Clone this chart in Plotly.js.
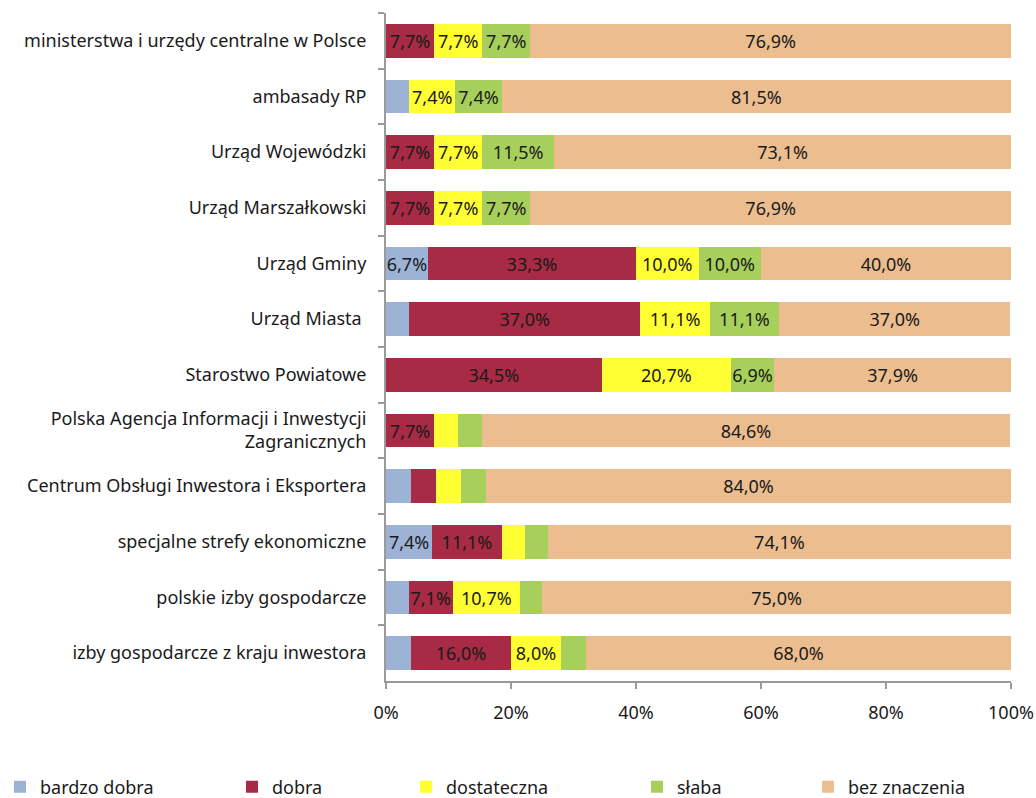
<!DOCTYPE html>
<html>
<head>
<meta charset="utf-8">
<script src="https://cdn.plot.ly/plotly-3.0.1.min.js"></script>
<style>html,body{margin:0;padding:0;background:#fff}#chart{width:1036px;height:798px}</style>
</head>
<body>
<div id="chart"></div>
<script>
const categories = [
  "ministerstwa i urzędy centralne w Polsce",
  "ambasady RP",
  "Urząd Wojewódzki",
  "Urząd Marszałkowski",
  "Urząd Gminy",
  "Urząd Miasta ",
  "Starostwo Powiatowe",
  "Polska Agencja Informacji i Inwestycji<br>Zagranicznych",
  "Centrum Obsługi Inwestora i Eksportera",
  "specjalne strefy ekonomiczne",
  "polskie izby gospodarcze",
  "izby gospodarcze z kraju inwestora"
];
const seriesNames = ["bardzo dobra", "dobra", "dostateczna", "słaba", "bez znaczenia"];
const bardzoDobra  = [0,   3.7, 0,    0,   6.7,  3.7,  0,    0,   4.0, 7.4,  3.6,  4.0];
const dobra        = [7.7, 0,   7.7,  7.7, 33.3, 37.0, 34.5, 7.7, 4.0, 11.1, 7.1,  16.0];
const dostateczna  = [7.7, 7.4, 7.7,  7.7, 10.0, 11.1, 20.7, 3.8, 4.0, 3.7,  10.7, 8.0];
const slaba        = [7.7, 7.4, 11.5, 7.7, 10.0, 11.1, 6.9,  3.8, 4.0, 3.7,  3.6,  4.0];
const bezZnaczenia = [76.9, 81.5, 73.1, 76.9, 40.0, 37.0, 37.9, 84.6, 84.0, 74.1, 75.0, 68.0];
const xTicks = [0, 20, 40, 60, 80, 100];

const seriesValues = [bardzoDobra, dobra, dostateczna, slaba, bezZnaczenia];
const colors = ["#9DB3D6", "#A72B44", "#FFFF33", "#A6D05B", "#EBBD8F"];
const legendX = [-5, 232, 406, 637, 808];
const FONT = "Noto Sans, sans-serif";

function lbl(v) { return v >= 5 ? v.toFixed(1).replace('.', ',') + '%' : ''; }

const traces = seriesValues.map((vals, i) => ({
  type: 'bar',
  orientation: 'h',
  name: seriesNames[i],
  y: categories,
  x: vals,
  text: vals.map(lbl),
  textposition: 'inside',
  insidetextanchor: 'middle',
  textangle: 0,
  constraintext: 'none',
  insidetextfont: {family: FONT, size: 18, color: '#1a1a1a'},
  marker: {color: colors[i], line: {width: 0}},
  hoverinfo: 'none',
  cliponaxis: false,
  legend: i === 0 ? 'legend' : 'legend' + (i + 1)
}));

const layout = {
  width: 1036, height: 798,
  margin: {l: 386, r: 25, t: 13, b: 117},
  barmode: 'stack',
  bargap: 0.4,
  paper_bgcolor: '#fff', plot_bgcolor: '#fff',
  font: {family: FONT, size: 18, color: '#1a1a1a'},
  xaxis: {
    range: [0, 100], tickvals: xTicks, ticktext: xTicks.map(v => v + '%'),
    showgrid: false, zeroline: false, showline: true, linecolor: '#9a9a9a', linewidth: 2,
    ticks: 'outside', ticklen: 6, tickcolor: '#9a9a9a', tickwidth: 2, ticklabelstandoff: 8,
    tickfont: {family: FONT, size: 18, color: '#1a1a1a'}, fixedrange: true
  },
  yaxis: {
    autorange: 'reversed', showgrid: false, zeroline: false, showline: true,
    linecolor: '#9a9a9a', linewidth: 2, ticks: 'outside', ticklen: 6, tickcolor: '#9a9a9a', tickwidth: 2,
    tickson: 'boundaries', ticklabelstandoff: 14,
    tickfont: {family: FONT, size: 18, color: '#1a1a1a'}, fixedrange: true
  },
  showlegend: true
};
const legendKeys = ['legend', 'legend2', 'legend3', 'legend4', 'legend5'];
legendKeys.forEach((k, i) => {
  layout[k] = {
    xref: 'container', yref: 'container',
    x: legendX[i] / 1036, y: 1 - 787 / 798, xanchor: 'left', yanchor: 'middle',
    orientation: 'h', bgcolor: 'rgba(0,0,0,0)', borderwidth: 0,
    font: {family: FONT, size: 18, color: '#1a1a1a'}, itemclick: false, itemdoubleclick: false
  };
});

Plotly.newPlot('chart', traces, layout, {displayModeBar: false, staticPlot: true});
</script>
</body>
</html>
